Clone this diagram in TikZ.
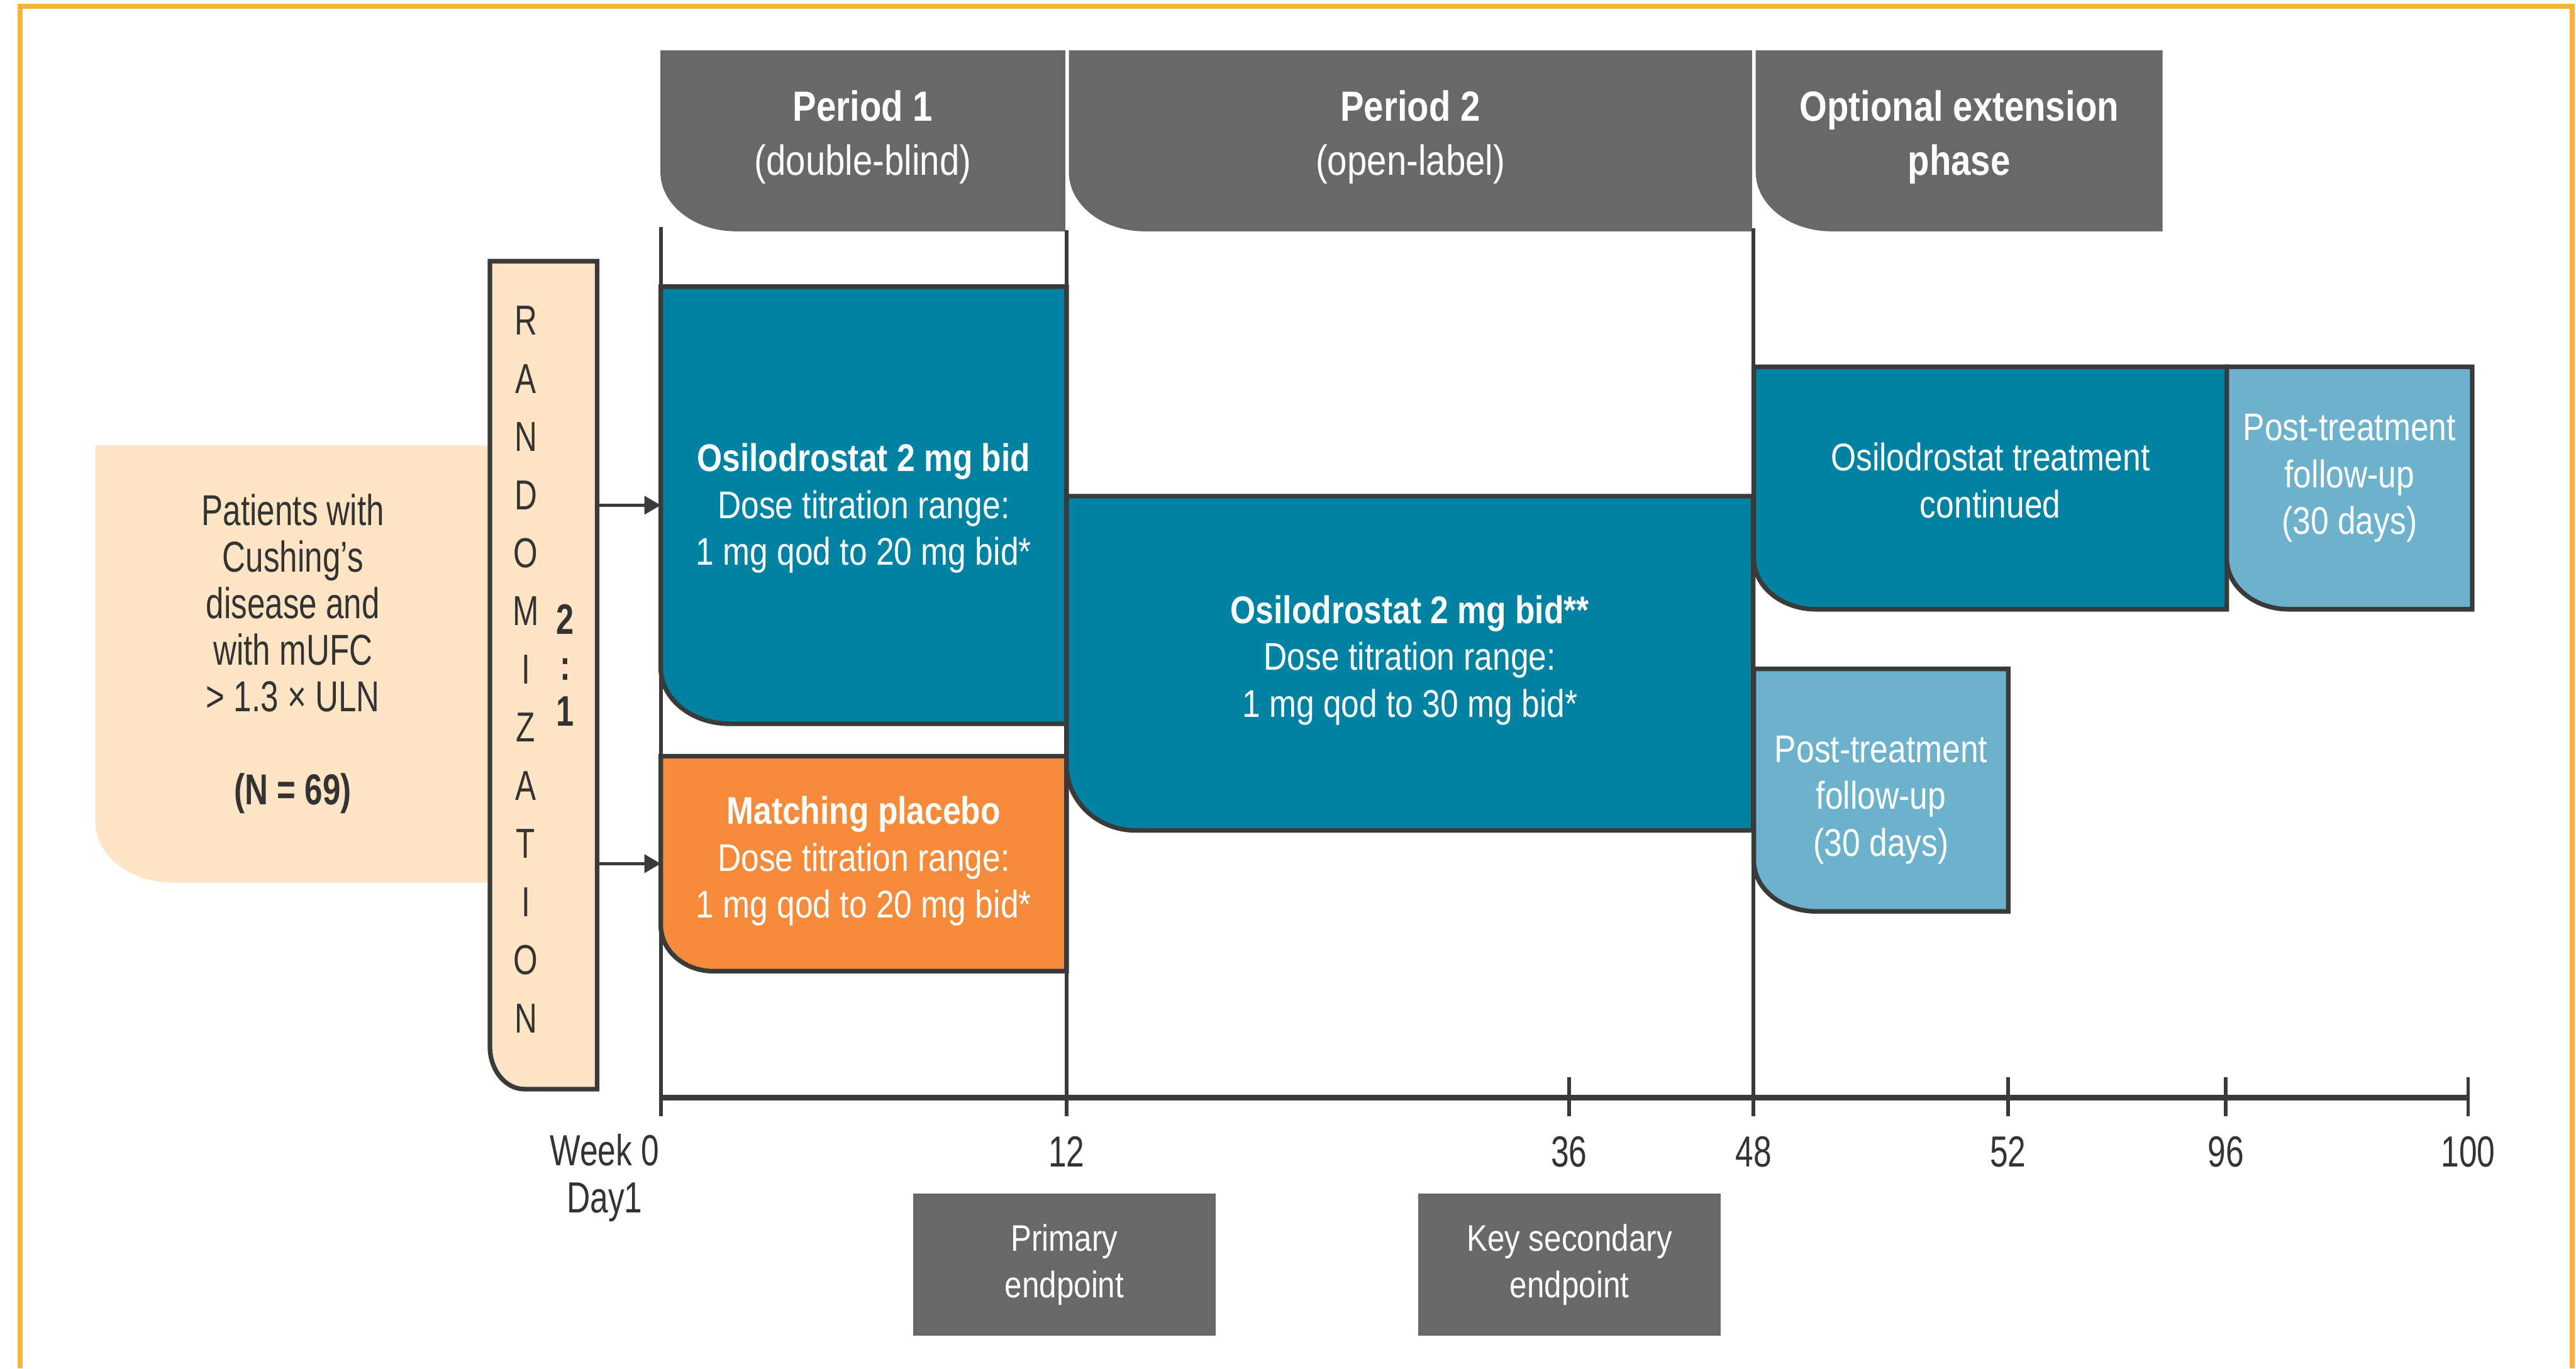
\documentclass[tikz,border=0pt]{standalone}
\usepackage{fontspec}
\setmainfont{Liberation Sans}
\newfontfamily\cfont{Liberation Sans}[FakeStretch=0.84]
\newfontfamily\dfont{Liberation Sans}[FakeStretch=0.745]
\usetikzlibrary{arrows.meta}
\definecolor{tealc}{RGB}{0,130,162}
\definecolor{orangec}{RGB}{245,138,58}
\definecolor{lbluec}{RGB}{108,178,204}
\definecolor{peachc}{RGB}{253,229,197}
\definecolor{grayc}{RGB}{104,104,104}
\definecolor{edgec}{RGB}{58,58,58}
\definecolor{darkc}{RGB}{51,51,51}
\definecolor{framec}{RGB}{251,178,58}
\tikzset{
  boxline/.style={draw=edgec, line width=2.8pt},
  anchorbox/.style={inner sep=0pt, outer sep=0pt, draw=none},
  wtext/.style={text=white, align=center, inner sep=0pt, font=\cfont\fontsize{23.5}{28.5}\selectfont},
  htext/.style={text=white, align=center, inner sep=0pt, font=\cfont\bfseries\fontsize{25.7}{33}\selectfont},
  dtext/.style={text=darkc, align=center, inner sep=0pt, font=\dfont\fontsize{26.3}{28.3}\selectfont},
  axlab/.style={text=darkc, align=center, inner sep=0pt, font=\dfont\fontsize{26.5}{28.5}\selectfont},
  epbox/.style={fill=grayc, text=white, align=center, inner sep=0pt, minimum width=184pt, minimum height=86.5pt, font=\cfont\fontsize{22.5}{28.4}\selectfont},
  arr/.style={-{Triangle[length=10pt,width=11pt]}, line width=2.2pt, draw=edgec},
  vline/.style={draw=edgec, line width=2.2pt},
  axisline/.style={draw=edgec, line width=3.4pt},
}
% name, x0, y0, x1, y1, rx, ry, style  (box with rounded bottom-left corner)
\newcommand{\blbox}[8]{%
  \path[#8] (#2+#6,#5) arc[start angle=270,end angle=180,x radius=#6pt,y radius=#7pt] -- (#2,#3) -- (#4,#3) -- (#4,#5) -- cycle;
  \node[anchorbox, minimum width={(#4-#2)*1pt}, minimum height={(#5-#3)*1pt}] (#1) at ({(#2+#4)/2},{(#3+#5)/2}) {};
}
\begin{document}
\begin{tikzpicture}[x=1pt,y=-1pt]
\useasboundingbox (0,0) rectangle (1568,833);
\fill[white] (0,0) rectangle (1568,833);
% frame
\draw[framec, line width=3pt] (12.3,833) -- (12.3,3.8) -- (1565.7,3.8) -- (1565.7,833);

% patients and randomization
\blbox{pat}{58}{271.2}{305}{537.3}{47}{37}{fill=peachc}
\node[dtext] (pattext) at (178.3,398) {Patients with\\Cushing’s\\disease and\\with mUFC\\> 1.3 × ULN\\[28.3pt]\textbf{(N = 69)}};
\blbox{rand}{298.2}{159}{363.5}{663}{21}{26}{boxline, fill=peachc}
\node[text=darkc, align=center, inner sep=0pt, font=\dfont\fontsize{25.5}{35.4}\selectfont] (randtext) at (320,407.5) {R\\A\\N\\D\\O\\M\\I\\Z\\A\\T\\I\\O\\N};
\node[text=darkc, align=center, inner sep=0pt, font=\dfont\bfseries\fontsize{26}{28}\selectfont] (ratio) at (344,405) {2\\:\\1};

% period headers
\blbox{hp1}{402}{30.7}{648.4}{140.8}{46}{36}{fill=grayc}
\blbox{hp2}{650.6}{30.7}{1066.5}{140.8}{46}{36}{fill=grayc}
\blbox{hext}{1068.7}{30.7}{1316.3}{140.8}{46}{36}{fill=grayc}
\node[htext] (hp1t) at (525.2,83.6) {Period 1\\\mdseries(double-blind)};
\node[htext] (hp2t) at (858.5,83.6) {Period 2\\\mdseries(open-label)};
\node[htext] (hextt) at (1192.5,83.6) {Optional extension\\phase};

% vertical period lines
\draw[vline] (402.3,138) -- (402.3,679.3);
\draw[vline] (649.2,140) -- (649.2,679.3);
\draw[vline] (1067.3,139) -- (1067.3,679.3);

% treatment boxes
\blbox{blue1}{402.2}{174.5}{649.2}{440.6}{42}{34}{boxline, fill=tealc}
\blbox{plac}{402.2}{460.3}{649.2}{591.2}{32}{28}{boxline, fill=orangec}
\blbox{blue2}{649.2}{302}{1067.2}{505.5}{42}{40}{boxline, fill=tealc}
\blbox{blue3}{1067.5}{223.3}{1355.4}{370.9}{38}{31}{boxline, fill=tealc}
\blbox{post1}{1355.4}{223.3}{1504.8}{370.9}{38}{31}{boxline, fill=lbluec}
\blbox{post2}{1067.5}{407.2}{1222.4}{554.8}{38}{31}{boxline, fill=lbluec}

\node[wtext] (blue1t) at (525.7,309.5) {\textbf{Osilodrostat 2 mg bid}\\Dose titration range:\\1 mg qod to 20 mg bid*};
\node[wtext] (plact) at (525.7,524.2) {\textbf{Matching placebo}\\Dose titration range:\\1 mg qod to 20 mg bid*};
\node[wtext] (blue2t) at (858.2,401.9) {\textbf{Osilodrostat 2 mg bid**}\\Dose titration range:\\1 mg qod to 30 mg bid*};
\node[wtext] (blue3t) at (1211.5,292.4) {Osilodrostat treatment\\continued};
\node[wtext] (post1t) at (1430.1,291.1) {Post-treatment\\follow-up\\(30 days)};
\node[wtext] (post2t) at (1145,487) {Post-treatment\\follow-up\\(30 days)};

% arrows
\draw[arr] (rand.east |- blue1.west) -- (blue1.west);
\draw[arr] (rand.east |- plac.west) -- (plac.west);

% time axis
\draw[axisline] (402.3,668.2) -- (1502.3,668.2);
\foreach \tx in {955,1222.3,1354.8,1502.3} {
  \draw[vline] (\tx,655.8) -- (\tx,679.3);
}
\node[axlab] (w0) at (368,717) {Week 0\\Day1};
\node[axlab] (w12) at (649.2,701) {12};
\node[axlab] (w36) at (955,701) {36};
\node[axlab] (w48) at (1067.3,701) {48};
\node[axlab] (w52) at (1222.3,701) {52};
\node[axlab] (w96) at (1354.8,701) {96};
\node[axlab] (w100) at (1502.3,701) {100};

% endpoints
\node[epbox] (prim) at (647.9,770) {Primary\\endpoint};
\node[epbox] (keysec) at (955.3,770) {Key secondary\\endpoint};
\end{tikzpicture}
\end{document}
